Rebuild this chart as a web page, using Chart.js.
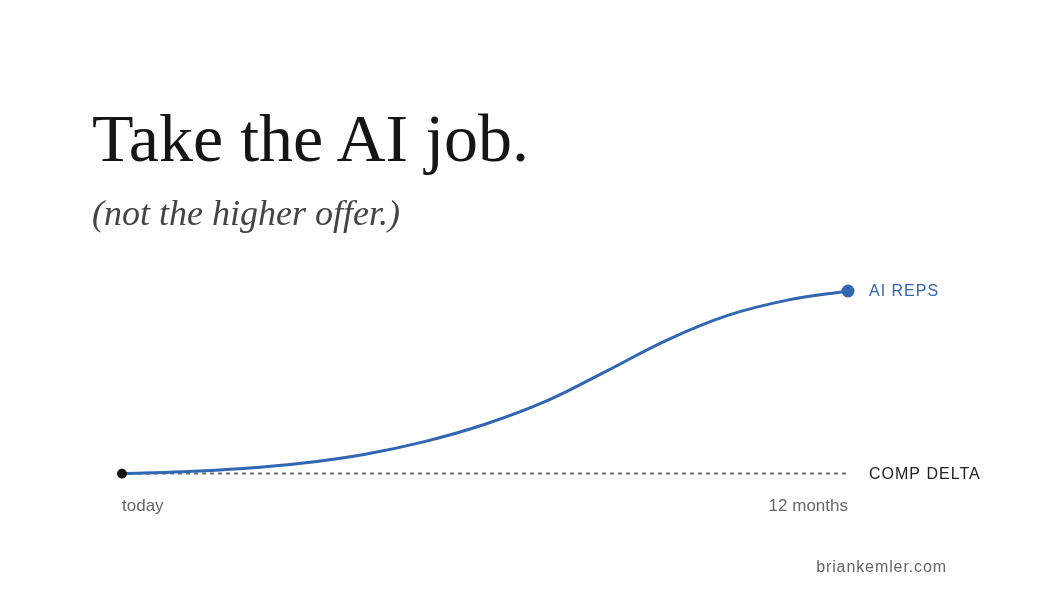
<!DOCTYPE html>
<html>
<head>
<meta charset="utf-8">
<script src="https://cdn.jsdelivr.net/npm/chart.js@4"></script>
<style>
  body { margin: 0; background: #fff; }
  .wrap { position: relative; width: 1040px; height: 596px; }
  .title {
    position: absolute; left: 92px; top: 104px;
    font: 68px/1 "Liberation Serif", serif; color: #151515;
  }
  .subtitle {
    position: absolute; left: 92px; top: 195px;
    font: italic 36px/1 "Liberation Serif", serif; color: #444;
  }
  .credit {
    position: absolute; right: 93px; top: 559px;
    font: 16px/1 "Liberation Sans", Arial, sans-serif; color: #666; letter-spacing: 0.9px;
  }
</style>
</head>
<body>
<div class="wrap">
  <canvas id="chart"></canvas>
  <div class="title">Take the AI job.</div>
  <div class="subtitle">(not the higher offer.)</div>
  <div class="credit">briankemler.com</div>
</div>
<script>
// data (months vs relative value, 0..100)
const months = [0, 1, 2, 3, 4, 5, 6, 7, 8, 9, 10, 11, 12];
const aiReps = [0, 1, 2.8, 5.8, 10.5, 17.5, 27, 39.5, 56, 73, 86.5, 95, 100];
const compDelta = [0, 0, 0, 0, 0, 0, 0, 0, 0, 0, 0, 0, 0];
const seriesNames = ['AI REPS', 'COMP DELTA'];
const tickLabels = { 0: 'today', 12: '12 months' };

const blue = '#3066b2';

// draws the series name to the right of each line's last point
const endLabels = {
  id: 'endLabels',
  afterDatasetsDraw(chart) {
    const ctx = chart.ctx;
    const colors = [blue, '#222'];
    [1, 2].forEach((dsIndex, i) => {
      const meta = chart.getDatasetMeta(dsIndex);
      const last = meta.data[meta.data.length - 1];
      ctx.save();
      ctx.font = '16px "Liberation Sans", Arial, sans-serif';
      ctx.letterSpacing = '1px';
      ctx.fillStyle = colors[i];
      ctx.textBaseline = 'middle';
      ctx.fillText(seriesNames[i], last.x + 21, last.y + 1);
      ctx.restore();
    });
  }
};

const pts = arr => months.map((m, i) => ({ x: m, y: arr[i] }));

new Chart(document.getElementById('chart'), {
  type: 'line',
  data: {
    datasets: [
      {
        // start marker
        data: [{ x: months[0], y: compDelta[0] }],
        showLine: false,
        pointRadius: 4.5,
        pointBackgroundColor: '#111',
        pointBorderColor: '#111',
        order: 0,
        clip: false
      },
      {
        label: seriesNames[0],
        data: pts(aiReps),
        borderColor: blue,
        borderWidth: 3,
        tension: 0.4,
        pointRadius: c => c.dataIndex === months.length - 1 ? 5 : 0,
        pointBackgroundColor: blue,
        pointBorderColor: blue,
        order: 1,
        clip: false
      },
      {
        label: seriesNames[1],
        data: pts(compDelta),
        borderColor: '#707070',
        borderWidth: 2,
        borderDash: [4, 4],
        pointRadius: 0,
        order: 2,
        clip: false
      }
    ]
  },
  options: {
    responsive: true,
    maintainAspectRatio: false,
    animation: false,
    layout: { padding: { left: 122, right: 192, top: 291, bottom: 56 } },
    plugins: { legend: { display: false }, tooltip: { enabled: false } },
    scales: {
      x: {
        type: 'linear',
        min: 0,
        max: 12,
        grid: { display: false, drawTicks: false },
        border: { display: false },
        afterBuildTicks: axis => { axis.ticks = Object.keys(tickLabels).map(v => ({ value: +v })); },
        ticks: {
          align: 'inner',
          padding: 23,
          color: '#666',
          font: { family: '"Liberation Sans", Arial, sans-serif', size: 17 },
          callback: v => tickLabels[v]
        }
      },
      y: { display: false, min: 0, max: 100 }
    }
  },
  plugins: [endLabels]
});
</script>
</body>
</html>
